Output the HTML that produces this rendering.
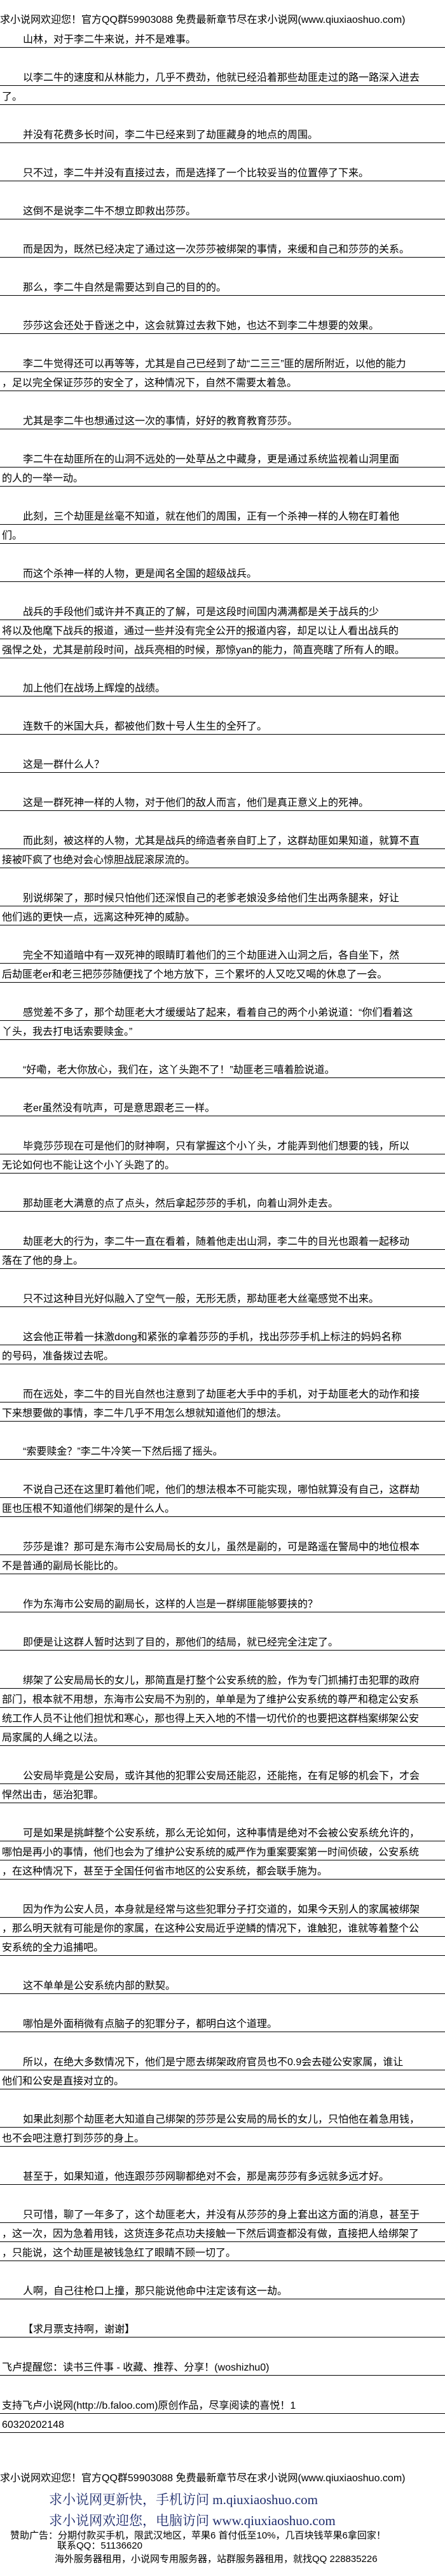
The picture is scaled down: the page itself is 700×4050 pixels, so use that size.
<!DOCTYPE html>
<html><head><meta charset="utf-8"><style>
html,body{margin:0;padding:0;background:#fff;}
body{width:700px;height:4050px;position:relative;overflow:hidden;font-family:"Liberation Sans","Noto Sans CJK SC",sans-serif;color:#000;}
.hd{position:absolute;left:0;font-size:16px;line-height:20px;white-space:nowrap;}
#c{position:absolute;top:45px;left:0;width:700px;}
.l{height:30px;box-sizing:border-box;border-bottom:1px solid #000;font-size:16px;line-height:20px;padding-top:8px;padding-left:3px;white-space:nowrap;overflow:hidden;}
.i{padding-left:36px;}
.b{height:30px;}
.blue{position:absolute;left:77px;font-family:"Liberation Serif","Noto Serif CJK SC",serif;font-size:21px;color:#1c2a6b;white-space:nowrap;line-height:24px;}
.ad{position:absolute;font-size:15px;line-height:18px;white-space:nowrap;}
</style></head><body>
<div class="hd" style="top:22px">求小说网欢迎您！官方QQ群59903088 免费最新章节尽在求小说网(www.qiuxiaoshuo.com)</div>
<div id="c">
<div class="l i">山林，对于李二牛来说，并不是难事。</div><div class="b"></div>
<div class="l i">以李二牛的速度和从林能力，几乎不费劲，他就已经沿着那些劫匪走过的路一路深入进去</div><div class="l">了。</div><div class="b"></div>
<div class="l i">并没有花费多长时间，李二牛已经来到了劫匪藏身的地点的周围。</div><div class="b"></div>
<div class="l i">只不过，李二牛并没有直接过去，而是选择了一个比较妥当的位置停了下来。</div><div class="b"></div>
<div class="l i">这倒不是说李二牛不想立即救出莎莎。</div><div class="b"></div>
<div class="l i">而是因为，既然已经决定了通过这一次莎莎被绑架的事情，来缓和自己和莎莎的关系。</div><div class="b"></div>
<div class="l i">那么，李二牛自然是需要达到自己的目的的。</div><div class="b"></div>
<div class="l i">莎莎这会还处于昏迷之中，这会就算过去救下她，也达不到李二牛想要的效果。</div><div class="b"></div>
<div class="l i">李二牛觉得还可以再等等，尤其是自己已经到了劫“二三三”匪的居所附近，以他的能力</div><div class="l">，足以完全保证莎莎的安全了，这种情况下，自然不需要太着急。</div><div class="b"></div>
<div class="l i">尤其是李二牛也想通过这一次的事情，好好的教育教育莎莎。</div><div class="b"></div>
<div class="l i">李二牛在劫匪所在的山洞不远处的一处草丛之中藏身，更是通过系统监视着山洞里面</div><div class="l">的人的一举一动。</div><div class="b"></div>
<div class="l i">此刻，三个劫匪是丝毫不知道，就在他们的周围，正有一个杀神一样的人物在盯着他</div><div class="l">们。</div><div class="b"></div>
<div class="l i">而这个杀神一样的人物，更是闻名全国的超级战兵。</div><div class="b"></div>
<div class="l i">战兵的手段他们或许并不真正的了解，可是这段时间国内满满都是关于战兵的少</div><div class="l">将以及他麾下战兵的报道，通过一些并没有完全公开的报道内容，却足以让人看出战兵的</div><div class="l">强悍之处，尤其是前段时间，战兵亮相的时候，那惊yan的能力，简直亮瞎了所有人的眼。</div><div class="b"></div>
<div class="l i">加上他们在战场上辉煌的战绩。</div><div class="b"></div>
<div class="l i">连数千的米国大兵，都被他们数十号人生生的全歼了。</div><div class="b"></div>
<div class="l i">这是一群什么人？</div><div class="b"></div>
<div class="l i">这是一群死神一样的人物，对于他们的敌人而言，他们是真正意义上的死神。</div><div class="b"></div>
<div class="l i">而此刻，被这样的人物，尤其是战兵的缔造者亲自盯上了，这群劫匪如果知道，就算不直</div><div class="l">接被吓疯了也绝对会心惊胆战屁滚尿流的。</div><div class="b"></div>
<div class="l i">别说绑架了，那时候只怕他们还深恨自己的老爹老娘没多给他们生出两条腿来，好让</div><div class="l">他们逃的更快一点，远离这种死神的威胁。</div><div class="b"></div>
<div class="l i">完全不知道暗中有一双死神的眼睛盯着他们的三个劫匪进入山洞之后，各自坐下，然</div><div class="l">后劫匪老er和老三把莎莎随便找了个地方放下，三个累坏的人又吃又喝的休息了一会。</div><div class="b"></div>
<div class="l i">感觉差不多了，那个劫匪老大才缓缓站了起来，看着自己的两个小弟说道：“你们看着这</div><div class="l">丫头，我去打电话索要赎金。”</div><div class="b"></div>
<div class="l i">“好嘞，老大你放心，我们在，这丫头跑不了！”劫匪老三嘻着脸说道。</div><div class="b"></div>
<div class="l i">老er虽然没有吭声，可是意思跟老三一样。</div><div class="b"></div>
<div class="l i">毕竟莎莎现在可是他们的财神啊，只有掌握这个小丫头，才能弄到他们想要的钱，所以</div><div class="l">无论如何也不能让这个小丫头跑了的。</div><div class="b"></div>
<div class="l i">那劫匪老大满意的点了点头，然后拿起莎莎的手机，向着山洞外走去。</div><div class="b"></div>
<div class="l i">劫匪老大的行为，李二牛一直在看着，随着他走出山洞，李二牛的目光也跟着一起移动</div><div class="l">落在了他的身上。</div><div class="b"></div>
<div class="l i">只不过这种目光好似融入了空气一般，无形无质，那劫匪老大丝毫感觉不出来。</div><div class="b"></div>
<div class="l i">这会他正带着一抹激dong和紧张的拿着莎莎的手机，找出莎莎手机上标注的妈妈名称</div><div class="l">的号码，准备拨过去呢。</div><div class="b"></div>
<div class="l i">而在远处，李二牛的目光自然也注意到了劫匪老大手中的手机，对于劫匪老大的动作和接</div><div class="l">下来想要做的事情，李二牛几乎不用怎么想就知道他们的想法。</div><div class="b"></div>
<div class="l i">“索要赎金？”李二牛冷笑一下然后摇了摇头。</div><div class="b"></div>
<div class="l i">不说自己还在这里盯着他们呢，他们的想法根本不可能实现，哪怕就算没有自己，这群劫</div><div class="l">匪也压根不知道他们绑架的是什么人。</div><div class="b"></div>
<div class="l i">莎莎是谁？那可是东海市公安局局长的女儿，虽然是副的，可是路遥在警局中的地位根本</div><div class="l">不是普通的副局长能比的。</div><div class="b"></div>
<div class="l i">作为东海市公安局的副局长，这样的人岂是一群绑匪能够要挟的？</div><div class="b"></div>
<div class="l i">即便是让这群人暂时达到了目的，那他们的结局，就已经完全注定了。</div><div class="b"></div>
<div class="l i">绑架了公安局局长的女儿，那简直是打整个公安系统的脸，作为专门抓捕打击犯罪的政府</div><div class="l">部门，根本就不用想，东海市公安局不为别的，单单是为了维护公安系统的尊严和稳定公安系</div><div class="l">统工作人员不让他们担忧和寒心，那也得上天入地的不惜一切代价的也要把这群档案绑架公安</div><div class="l">局家属的人绳之以法。</div><div class="b"></div>
<div class="l i">公安局毕竟是公安局，或许其他的犯罪公安局还能忍，还能拖，在有足够的机会下，才会</div><div class="l">悍然出击，惩治犯罪。</div><div class="b"></div>
<div class="l i">可是如果是挑衅整个公安系统，那么无论如何，这种事情是绝对不会被公安系统允许的，</div><div class="l">哪怕是再小的事情，他们也会为了维护公安系统的威严作为重案要案第一时间侦破，公安系统</div><div class="l">，在这种情况下，甚至于全国任何省市地区的公安系统，都会联手施为。</div><div class="b"></div>
<div class="l i">因为作为公安人员，本身就是经常与这些犯罪分子打交道的，如果今天别人的家属被绑架</div><div class="l">，那么明天就有可能是你的家属，在这种公安局近乎逆鳞的情况下，谁触犯，谁就等着整个公</div><div class="l">安系统的全力追捕吧。</div><div class="b"></div>
<div class="l i">这不单单是公安系统内部的默契。</div><div class="b"></div>
<div class="l i">哪怕是外面稍微有点脑子的犯罪分子，都明白这个道理。</div><div class="b"></div>
<div class="l i">所以，在绝大多数情况下，他们是宁愿去绑架政府官员也不0.9会去碰公安家属，谁让</div><div class="l">他们和公安是直接对立的。</div><div class="b"></div>
<div class="l i">如果此刻那个劫匪老大知道自己绑架的莎莎是公安局的局长的女儿，只怕他在着急用钱，</div><div class="l">也不会吧注意打到莎莎的身上。</div><div class="b"></div>
<div class="l i">甚至于，如果知道，他连跟莎莎网聊都绝对不会，那是离莎莎有多远就多远才好。</div><div class="b"></div>
<div class="l i">只可惜，聊了一年多了，这个劫匪老大，并没有从莎莎的身上套出这方面的消息，甚至于</div><div class="l">，这一次，因为急着用钱，这货连多花点功夫接触一下然后调查都没有做，直接把人给绑架了</div><div class="l">，只能说，这个劫匪是被钱急红了眼睛不顾一切了。</div><div class="b"></div>
<div class="l i">人啊，自己往枪口上撞，那只能说他命中注定该有这一劫。</div><div class="b"></div>
<div class="l i">【求月票支持啊，谢谢】</div><div class="b"></div>
<div class="l">飞卢提醒您：读书三件事 - 收藏、推荐、分享！(woshizhu0)</div><div class="b"></div>
<div class="l">支持飞卢小说网(http://b.faloo.com)原创作品，尽享阅读的喜悦！1</div>
<div class="l">60320202148</div>
</div>
<div class="hd" style="top:3887px">求小说网欢迎您！官方QQ群59903088 免费最新章节尽在求小说网(www.qiuxiaoshuo.com)</div>
<div class="blue" style="top:3918px">求小说网更新快，手机访问 m.qiuxiaoshuo.com</div>
<div class="blue" style="top:3951px">求小说网欢迎您，电脑访问 www.qiuxiaoshuo.com</div>
<div class="ad" style="top:3978px;left:16px">赞助广告：分期付款买手机，限武汉地区，苹果6 首付低至10%，几百块钱苹果6拿回家！</div>
<div class="ad" style="top:3994px;left:90px">联系QQ：51136620</div>
<div class="ad" style="top:4015px;left:86px">海外服务器租用，小说网专用服务器，站群服务器租用，就找QQ 228835226</div>
</body></html>
